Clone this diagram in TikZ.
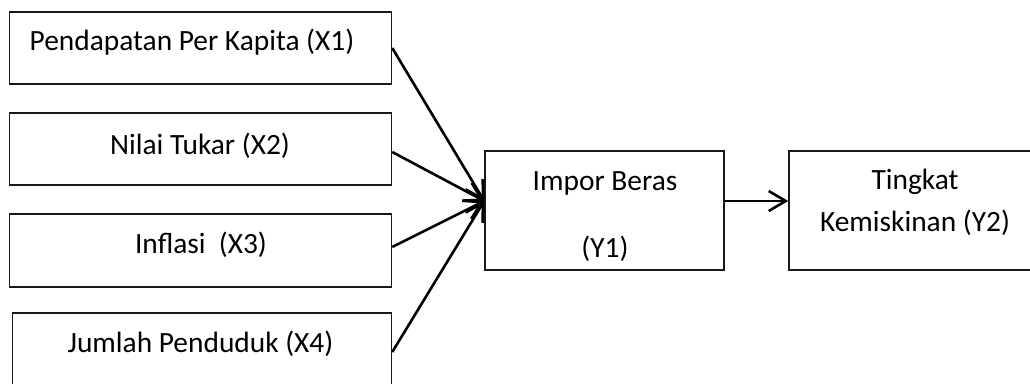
\documentclass[tikz,border=0pt]{standalone}
\usepackage{fontspec}
\setmainfont{Carlito}
\usetikzlibrary{arrows.meta}
\begin{document}
\begin{tikzpicture}[x=1pt,y=-1pt,
  box/.style={draw=black!90,line width=1.5pt,inner sep=0pt,rectangle},
  lbl/.style={inner sep=0pt,anchor=base,font=\fontsize{29.4}{35}\selectfont},
  link/.style={line width=2.6pt,-{Straight Barb[length=17pt,width=20pt,line width=2.6pt]}}]
\clip (0,0) rectangle (1030,383);
\fill[white] (0,0) rectangle (1030,383);
% input variables
\node[box,minimum width=382pt,minimum height=72pt] (x1) at (200.5,48) {};
\node[box,minimum width=382pt,minimum height=72pt] (x2) at (200.5,149) {};
\node[box,minimum width=382pt,minimum height=73pt] (x3) at (200.5,250.5) {};
\node[box,minimum width=379pt,minimum height=78pt] (x4) at (202,352) {};
\node[lbl] (x1t) at (192,50) {Pendapatan Per Kapita (X1)};
\node[lbl] (x2t) at (200,154) {Nilai Tukar (X2)};
\node[lbl] (x3t) at (201,253) {Inflasi\ \ (X3)};
\node[lbl] (x4t) at (200.5,352) {Jumlah Penduduk (X4)};
% intermediate and outcome variables
\node[box,minimum width=239pt,minimum height=119pt] (y1) at (604.5,210.5) {};
\node[box,minimum width=252pt,minimum height=119pt] (y2) at (915,210.5) {};
\node[lbl] (y1a) at (605,190) {Impor Beras};
\node[lbl] (y1b) at (605,257) {(Y1)};
\node[lbl] (y2a) at (915,189) {Tingkat};
\node[lbl] (y2b) at (915,231) {Kemiskinan (Y2)};
% converging arrows
\coordinate (hub) at ([yshift=9.5pt]y1.west);
\draw[link] (x1.east) -- (hub);
\draw[link] ([yshift=-3pt]x2.east) -- (hub);
\draw[link] ([yshift=3.5pt]x3.east) -- (hub);
\draw[link] (x4.east) -- (hub);
\draw[link] (y1.east |- hub) -- (y2.west |- hub);
\end{tikzpicture}
\end{document}
